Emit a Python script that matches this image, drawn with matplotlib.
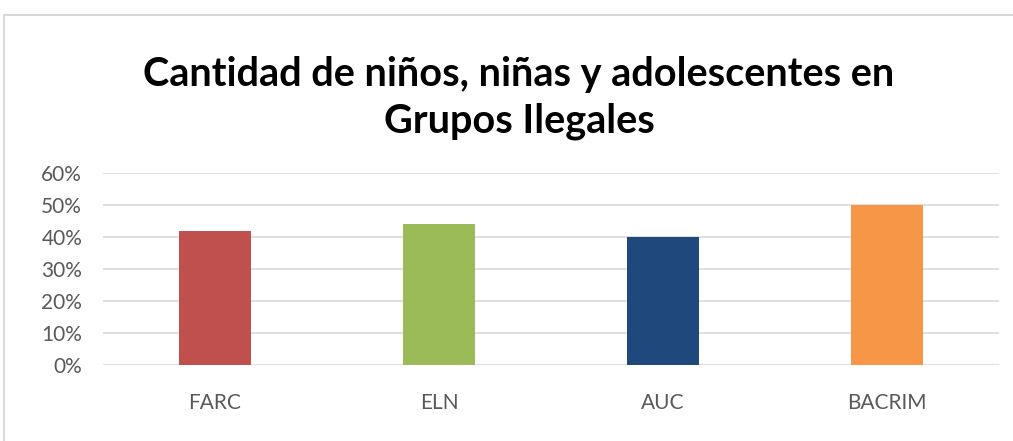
import matplotlib.pyplot as plt
from matplotlib.patches import Rectangle
from matplotlib.ticker import PercentFormatter

categories = ["FARC", "ELN", "AUC", "BACRIM"]
values = [0.42, 0.44, 0.40, 0.50]
colors = ["#C0504D", "#9BBB59", "#1F497D", "#F79646"]
yticks = [0, 0.1, 0.2, 0.3, 0.4, 0.5, 0.6]
title = "Cantidad de niños, niñas y adolescentes en\nGrupos Ilegales"

W, H = 1013, 441
fig = plt.figure(figsize=(W / 100, H / 100), dpi=100)
plt.rcParams['font.family'] = ['Lato', 'DejaVu Sans']

# chart border (only left and top visible)
fig.patches.append(Rectangle((4 / W, -0.1), 1.2, 1 - 15 / H + 0.1,
                             transform=fig.transFigure, fill=False,
                             edgecolor="#D9D9D9", linewidth=1.5))

ax = fig.add_axes([103 / W, 1 - 365 / H, (999 - 103) / W, (365 - 173) / H])
x = range(len(categories))
ax.bar(x, values, width=0.317, color=colors, zorder=3)

ax.set_xlim(-0.5, len(categories) - 0.5)
ax.set_ylim(0, 0.6)
ax.set_yticks(yticks)
ax.yaxis.set_major_formatter(PercentFormatter(1.0, decimals=0))
ax.set_xticks(list(x))
ax.set_xticklabels(categories)
ax.tick_params(axis="both", length=0, labelsize=15, colors="#595959")
ax.tick_params(axis="x", pad=20)
ax.tick_params(axis="y", pad=15)
ax.grid(axis="y", color="#D9D9D9", linewidth=1.2, zorder=0)
for s in ax.spines.values():
    s.set_visible(False)

fig.text(519 / W, 1 - 98 / H, title, ha="center", va="center",
         fontsize=28.5, fontweight="bold", color="#000000", linespacing=1.3)

fig.savefig("out.png", dpi=100)
